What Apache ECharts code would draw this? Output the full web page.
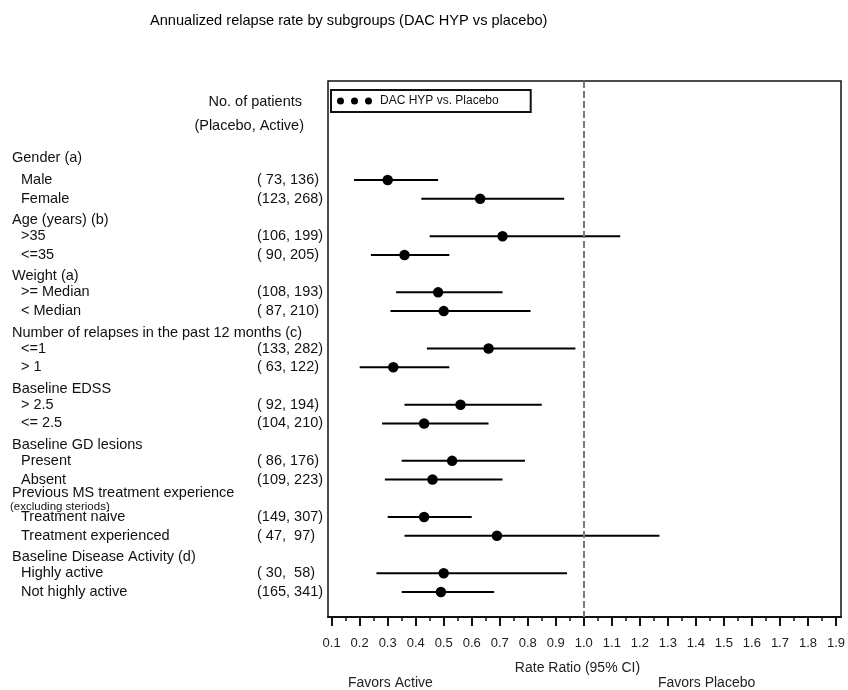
<!DOCTYPE html>
<html>
<head>
<meta charset="utf-8">
<script src="https://cdn.jsdelivr.net/npm/echarts@6/dist/echarts.min.js"></script>
<style>
  html, body { margin: 0; padding: 0; background: #ffffff; }
  #chart { width: 848px; height: 690px; }
</style>
</head>
<body>
<div id="chart"></div>
<script>
// Subgroup headings (two subgroups under each heading)
const groups = [
  'Gender (a)',
  'Age (years) (b)',
  'Weight (a)',
  'Number of relapses in the past 12 months (c)',
  'Baseline EDSS',
  'Baseline GD lesions',
  'Previous MS treatment experience',
  'Baseline Disease Activity (d)'
];
const groupNotes = ['', '', '', '', '', '', '(excluding steriods)', ''];

const subgroups = [
  'Male', 'Female',
  '>35', '<=35',
  '>= Median', '< Median',
  '<=1', '> 1',
  '> 2.5', '<= 2.5',
  'Present', 'Absent',
  'Treatment naive', 'Treatment experienced',
  'Highly active', 'Not highly active'
];

// No. of patients (Placebo, Active)
const patients = [
  '( 73, 136)', '(123, 268)',
  '(106, 199)', '( 90, 205)',
  '(108, 193)', '( 87, 210)',
  '(133, 282)', '( 63, 122)',
  '( 92, 194)', '(104, 210)',
  '( 86, 176)', '(109, 223)',
  '(149, 307)', '( 47,  97)',
  '( 30,  58)', '(165, 341)'
];

// Annualized relapse rate ratio with 95% CI
const rateRatio = [0.30, 0.63, 0.71, 0.36, 0.48, 0.50, 0.66, 0.32, 0.56, 0.43, 0.53, 0.46, 0.43, 0.69, 0.50, 0.49];
const ciLower   = [0.18, 0.42, 0.45, 0.24, 0.33, 0.31, 0.44, 0.20, 0.36, 0.28, 0.35, 0.29, 0.30, 0.36, 0.26, 0.35];
const ciUpper   = [0.48, 0.93, 1.13, 0.52, 0.71, 0.81, 0.97, 0.52, 0.85, 0.66, 0.79, 0.71, 0.60, 1.27, 0.94, 0.68];

const xTicks      = [0.1, 0.2, 0.3, 0.4, 0.5, 0.6, 0.7, 0.8, 0.9, 1.0, 1.1, 1.2, 1.3, 1.4, 1.5, 1.6, 1.7, 1.8, 1.9];
const xMinorTicks = [0.15, 0.25, 0.35, 0.45, 0.55, 0.65, 0.75, 0.85, 0.95, 1.05, 1.15, 1.25, 1.35, 1.45, 1.55, 1.65, 1.75, 1.85];
const refValue = 1.0;

const FONT = '"Liberation Sans", Arial, Helvetica, sans-serif';
const TABLE_FONT_SIZE = 14.5;

// Row slot of each subgroup: heading, then two rows, per group
const rowSlot = k => 3 * Math.floor(k / 2) + 1 + (k % 2);
const headSlot = g => 3 * g + (g === 0 ? -0.2 : 0.15);

const Y_MIN = -4.29, Y_MAX = 24.34;

// Text rows of the left-hand table
const tableRows = [];
tableRows.push({ x: 302, s: -3.16, text: 'No. of patients', size: TABLE_FONT_SIZE, align: 'right' });
tableRows.push({ x: 304, s: -1.90, text: '(Placebo, Active)', size: TABLE_FONT_SIZE, align: 'right' });
groups.forEach((g, gi) => {
  if (groupNotes[gi]) {
    tableRows.push({ x: 12, s: 3 * gi - 0.27, text: g, size: TABLE_FONT_SIZE, align: 'left' });
    tableRows.push({ x: 10, s: 3 * gi + 0.45, text: groupNotes[gi], size: 11.5, align: 'left' });
  } else {
    tableRows.push({ x: 12, s: headSlot(gi), text: g, size: TABLE_FONT_SIZE, align: 'left' });
  }
});
subgroups.forEach((name, k) => {
  tableRows.push({ x: 21, s: rowSlot(k), text: name, size: TABLE_FONT_SIZE, align: 'left' });
  tableRows.push({ x: 257, s: rowSlot(k), text: patients[k], size: TABLE_FONT_SIZE, align: 'left' });
});

const pointData = rateRatio.map((v, k) => [v, rowSlot(k)]);
const ciData = rateRatio.map((v, k) => [ciLower[k], ciUpper[k], rowSlot(k)]);

const legendIcon = 'path://M0,3.5a3.5,3.5 0 1,0 7,0a3.5,3.5 0 1,0 -7,0z' +
  'M14,3.5a3.5,3.5 0 1,0 7,0a3.5,3.5 0 1,0 -7,0z' +
  'M28,3.5a3.5,3.5 0 1,0 7,0a3.5,3.5 0 1,0 -7,0z';

const chart = echarts.init(document.getElementById('chart'), null, { renderer: 'canvas' });

const option = {
  backgroundColor: '#ffffff',
  animation: false,
  textStyle: { fontFamily: FONT },
  title: {
    text: 'Annualized relapse rate by subgroups (DAC HYP vs placebo)',
    left: 150,
    top: 13,
    padding: 0,
    textStyle: { fontFamily: FONT, fontSize: 14.6, fontWeight: 'normal', color: '#000' }
  },
  legend: {
    data: ['DAC HYP vs. Placebo'],
    left: 331,
    top: 90,
    orient: 'horizontal',
    icon: legendIcon,
    itemWidth: 35,
    itemHeight: 7,
    padding: [5, 32, 5, 6],
    borderColor: '#111',
    borderWidth: 2,
    selectedMode: false,
    itemStyle: { opacity: 1, color: '#000' },
    textStyle: { fontFamily: FONT, fontSize: 12, color: '#111', padding: [0, 0, 0, 3] }
  },
  grid: [
    {
      left: 328, right: 6, top: 81, bottom: 73,
      show: true, borderColor: '#111', borderWidth: 1.5, backgroundColor: 'transparent'
    },
    { left: 0, width: 327, top: 81, bottom: 73, show: false }
  ],
  xAxis: [
    {
      gridIndex: 0, type: 'value', min: 0.087, max: 1.918, position: 'bottom',
      name: 'Rate Ratio (95% CI)', nameLocation: 'middle', nameGap: 44,
      nameTextStyle: { fontFamily: FONT, fontSize: 14, color: '#222', padding: [0, 14, 0, 0] },
      axisLine: { show: true, onZero: false, lineStyle: { color: '#111', width: 2 } },
      axisTick: { show: true, inside: false, length: 9, lineStyle: { color: '#111', width: 2 }, customValues: xTicks },
      axisLabel: {
        show: true, margin: 20, fontFamily: FONT, fontSize: 13, color: '#222',
        customValues: xTicks, formatter: v => v.toFixed(1)
      },
      splitLine: { show: false }
    },
    {
      gridIndex: 0, type: 'value', min: 0.087, max: 1.918, position: 'bottom',
      axisLine: { show: false, onZero: false },
      axisTick: { show: true, inside: false, length: 4, lineStyle: { color: '#111', width: 1.5 }, customValues: xMinorTicks },
      axisLabel: { show: false },
      splitLine: { show: false }
    },
    { gridIndex: 1, type: 'value', min: 0, max: 327, show: false }
  ],
  yAxis: [
    { gridIndex: 0, type: 'value', min: Y_MIN, max: Y_MAX, inverse: true, show: false },
    { gridIndex: 1, type: 'value', min: Y_MIN, max: Y_MAX, inverse: true, show: false }
  ],
  series: [
    {
      // 95% confidence intervals
      type: 'custom',
      xAxisIndex: 0, yAxisIndex: 0,
      data: ciData,
      encode: { x: [0, 1], y: 2 },
      renderItem: (params, api) => {
        const a = api.coord([api.value(0), api.value(2)]);
        const b = api.coord([api.value(1), api.value(2)]);
        return {
          type: 'line',
          shape: { x1: a[0], y1: a[1], x2: b[0], y2: b[1] },
          style: { stroke: '#000', lineWidth: 2 }
        };
      },
      silent: true,
      z: 3
    },
    {
      name: 'DAC HYP vs. Placebo',
      type: 'scatter',
      xAxisIndex: 0, yAxisIndex: 0,
      data: pointData,
      symbol: 'circle',
      symbolSize: 10.5,
      itemStyle: { color: '#000', opacity: 1 },
      z: 4,
      markLine: {
        silent: true,
        symbol: ['none', 'none'],
        label: { show: false },
        lineStyle: { color: '#7a7a7a', type: [7, 3], width: 2, opacity: 1 },
        data: [{ xAxis: refValue }]
      }
    },
    {
      // Left-hand table of subgroup labels and patient counts
      type: 'custom',
      xAxisIndex: 2, yAxisIndex: 1,
      data: tableRows.map(r => [r.x, r.s]),
      renderItem: (params, api) => {
        const r = tableRows[params.dataIndex];
        const p = api.coord([api.value(0), api.value(1)]);
        return {
          type: 'text',
          x: p[0], y: p[1],
          style: {
            text: r.text,
            fill: '#111',
            font: r.size + 'px ' + FONT,
            align: r.align,
            verticalAlign: 'middle'
          }
        };
      },
      silent: true,
      clip: false
    }
  ],
  graphic: [
    {
      type: 'text', left: 348, top: 676,
      style: { text: 'Favors Active', fill: '#222', font: '14px ' + FONT }
    },
    {
      type: 'text', left: 658, top: 676,
      style: { text: 'Favors Placebo', fill: '#222', font: '14px ' + FONT }
    }
  ]
};

chart.setOption(option);
</script>
</body>
</html>
